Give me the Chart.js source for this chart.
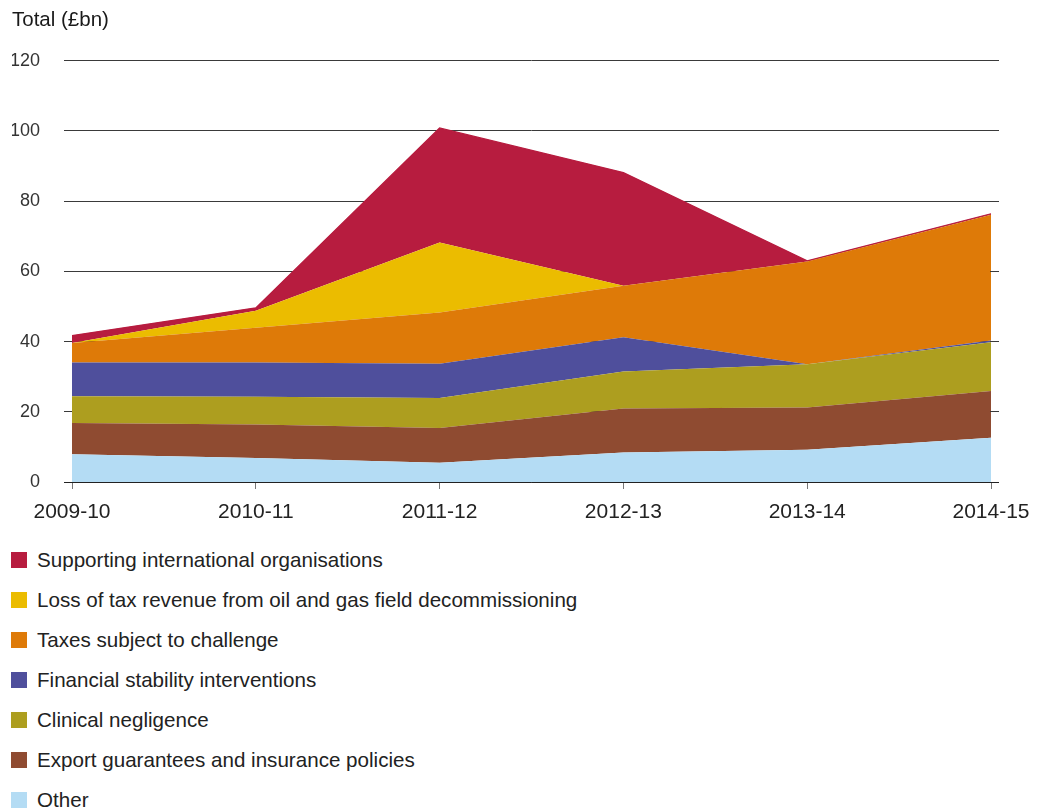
<!DOCTYPE html>
<html>
<head>
<meta charset="utf-8">
<script src="https://cdn.jsdelivr.net/npm/chart.js@4/dist/chart.umd.min.js"></script>
<style>
body { margin:0; background:#fff; width:1043px; height:810px; overflow:hidden; font-family:"Liberation Sans", Arial, sans-serif; }
#box { position:absolute; left:0; top:0; width:1043px; height:530px; }
#legend { position:absolute; left:0; top:540px; }
.item { position:absolute; left:11px; height:40px; white-space:nowrap; font-size:20.6px; color:#222; line-height:40px; }
.item span { position:absolute; left:0; top:12px; width:16px; height:16px; }
.item b { font-weight:normal; position:absolute; left:26px; top:0; }
</style>
</head>
<body>
<div id="box"><canvas id="myChart"></canvas></div>
<div id="legend"></div>
<script>
// 연도별 값 (£bn)
var years = ['2009-10','2010-11','2011-12','2012-13','2013-14','2014-15'];
var yTicks = [0,20,40,60,80,100,120];

var other      = [7.9, 6.8, 5.5, 8.4, 9.2, 12.6];
var exportGuar = [8.9, 9.6, 9.9, 12.5, 12.0, 13.3];
var clinical   = [7.6, 7.9, 8.5, 10.6, 12.3, 13.9];
var financial  = [9.6, 9.7, 9.8, 9.7, 0.0, 0.5];
var taxes      = [5.6, 9.9, 14.6, 14.7, 29.3, 35.8];
var oilGas     = [0.0, 4.9, 19.9, 0.0, 0.0, 0.0];
var supporting = [2.1, 0.8, 32.6, 32.2, 0.2, 0.3];

// 아래에서 위로 쌓이는 순서
var names = ['Other','Export guarantees and insurance policies','Clinical negligence',
	'Financial stability interventions','Taxes subject to challenge',
	'Loss of tax revenue from oil and gas field decommissioning','Supporting international organisations'];
var values = [other, exportGuar, clinical, financial, taxes, oilGas, supporting];
var colors = ['#B4DCF4','#8F4B31','#AD9E1F','#4F4F9C','#DE7A08','#EBBC00','#B71C3F'];

var gridColor = '#3a3a3a';

var datasets = [];
for (var i = 0; i < names.length; i++) {
	datasets.push({
		label: names[i],
		data: values[i],
		fill: i == 0 ? 'origin' : '-1',
		backgroundColor: colors[i],
		borderColor: colors[i],
		borderWidth: i == names.length - 1 ? 1.2 : 0,
		pointRadius: 0,
		tension: 0
	});
}

// 눈금선과 같은 방식으로 픽셀 맞춤
function crisp(p) { return Math.round(p - 0.5) + 0.5; }

// 오른쪽 눈금선 연장 + 0 기준선
var axisLines = {
	id: 'axisLines',
	afterDatasetsDraw: function(chart) {
		var ctx = chart.ctx, area = chart.chartArea, y = chart.scales.y;
		var r = Math.round(area.right);
		ctx.save();
		ctx.lineWidth = 1;
		ctx.strokeStyle = gridColor;
		yTicks.forEach(function(v) {
			var py = crisp(y.getPixelForValue(v));
			ctx.beginPath();
			ctx.moveTo(r - 1, py);
			ctx.lineTo(r + 8, py);
			ctx.stroke();
		});
		var p0 = crisp(y.getPixelForValue(0));
		ctx.strokeStyle = '#222';
		ctx.beginPath();
		ctx.moveTo(area.left - 8, p0);
		ctx.lineTo(r + 8, p0);
		ctx.stroke();
		ctx.restore();
	}
};

var ctx1 = document.getElementById('myChart').getContext('2d');
var myChart = new Chart(ctx1, {
	type: 'line',
	data: { labels: years, datasets: datasets },
	options: {
		responsive: true,
		maintainAspectRatio: false,
		animation: false,
		layout: { padding: { left: 12, right: 52, top: 0, bottom: 0 } },
		plugins: {
			legend: { display: false },
			tooltip: { enabled: false },
			title: {
				display: true,
				text: 'Total (£bn)',
				align: 'start',
				color: '#1a1a1a',
				font: { family: 'Liberation Sans', size: 20.5, weight: 'normal' },
				padding: { top: 8, bottom: 28 }
			}
		},
		scales: {
			x: {
				afterFit: function(scale) { scale.height = 48; },
				grid: { drawOnChartArea: false, drawTicks: true, tickLength: 7, color: '#777' },
				border: { display: false },
				ticks: { color: '#222', padding: 11, maxRotation: 0, font: { family: 'Liberation Sans', size: 21 } }
			},
			y: {
				stacked: true,
				min: 0,
				max: 120,
				afterFit: function(scale) { scale.width = 60; },
				afterBuildTicks: function(scale) { scale.ticks = yTicks.map(function(v){ return { value: v }; }); },
				grid: { color: gridColor, lineWidth: 1, drawTicks: true, tickLength: 8 },
				border: { display: false },
				ticks: { color: '#333', padding: 24, font: { family: 'Liberation Sans', size: 18 } }
			}
		}
	},
	plugins: [axisLines]
});

// 범례: 위에서 아래로
var legend = document.getElementById('legend');
for (var k = names.length - 1; k >= 0; k--) {
	var row = document.createElement('div');
	row.className = 'item';
	row.style.top = ((names.length - 1 - k) * 40) + 'px';
	row.innerHTML = '<span style="background:' + colors[k] + '"></span><b></b>';
	row.querySelector('b').textContent = names[k];
	legend.appendChild(row);
}
</script>
</body>
</html>
